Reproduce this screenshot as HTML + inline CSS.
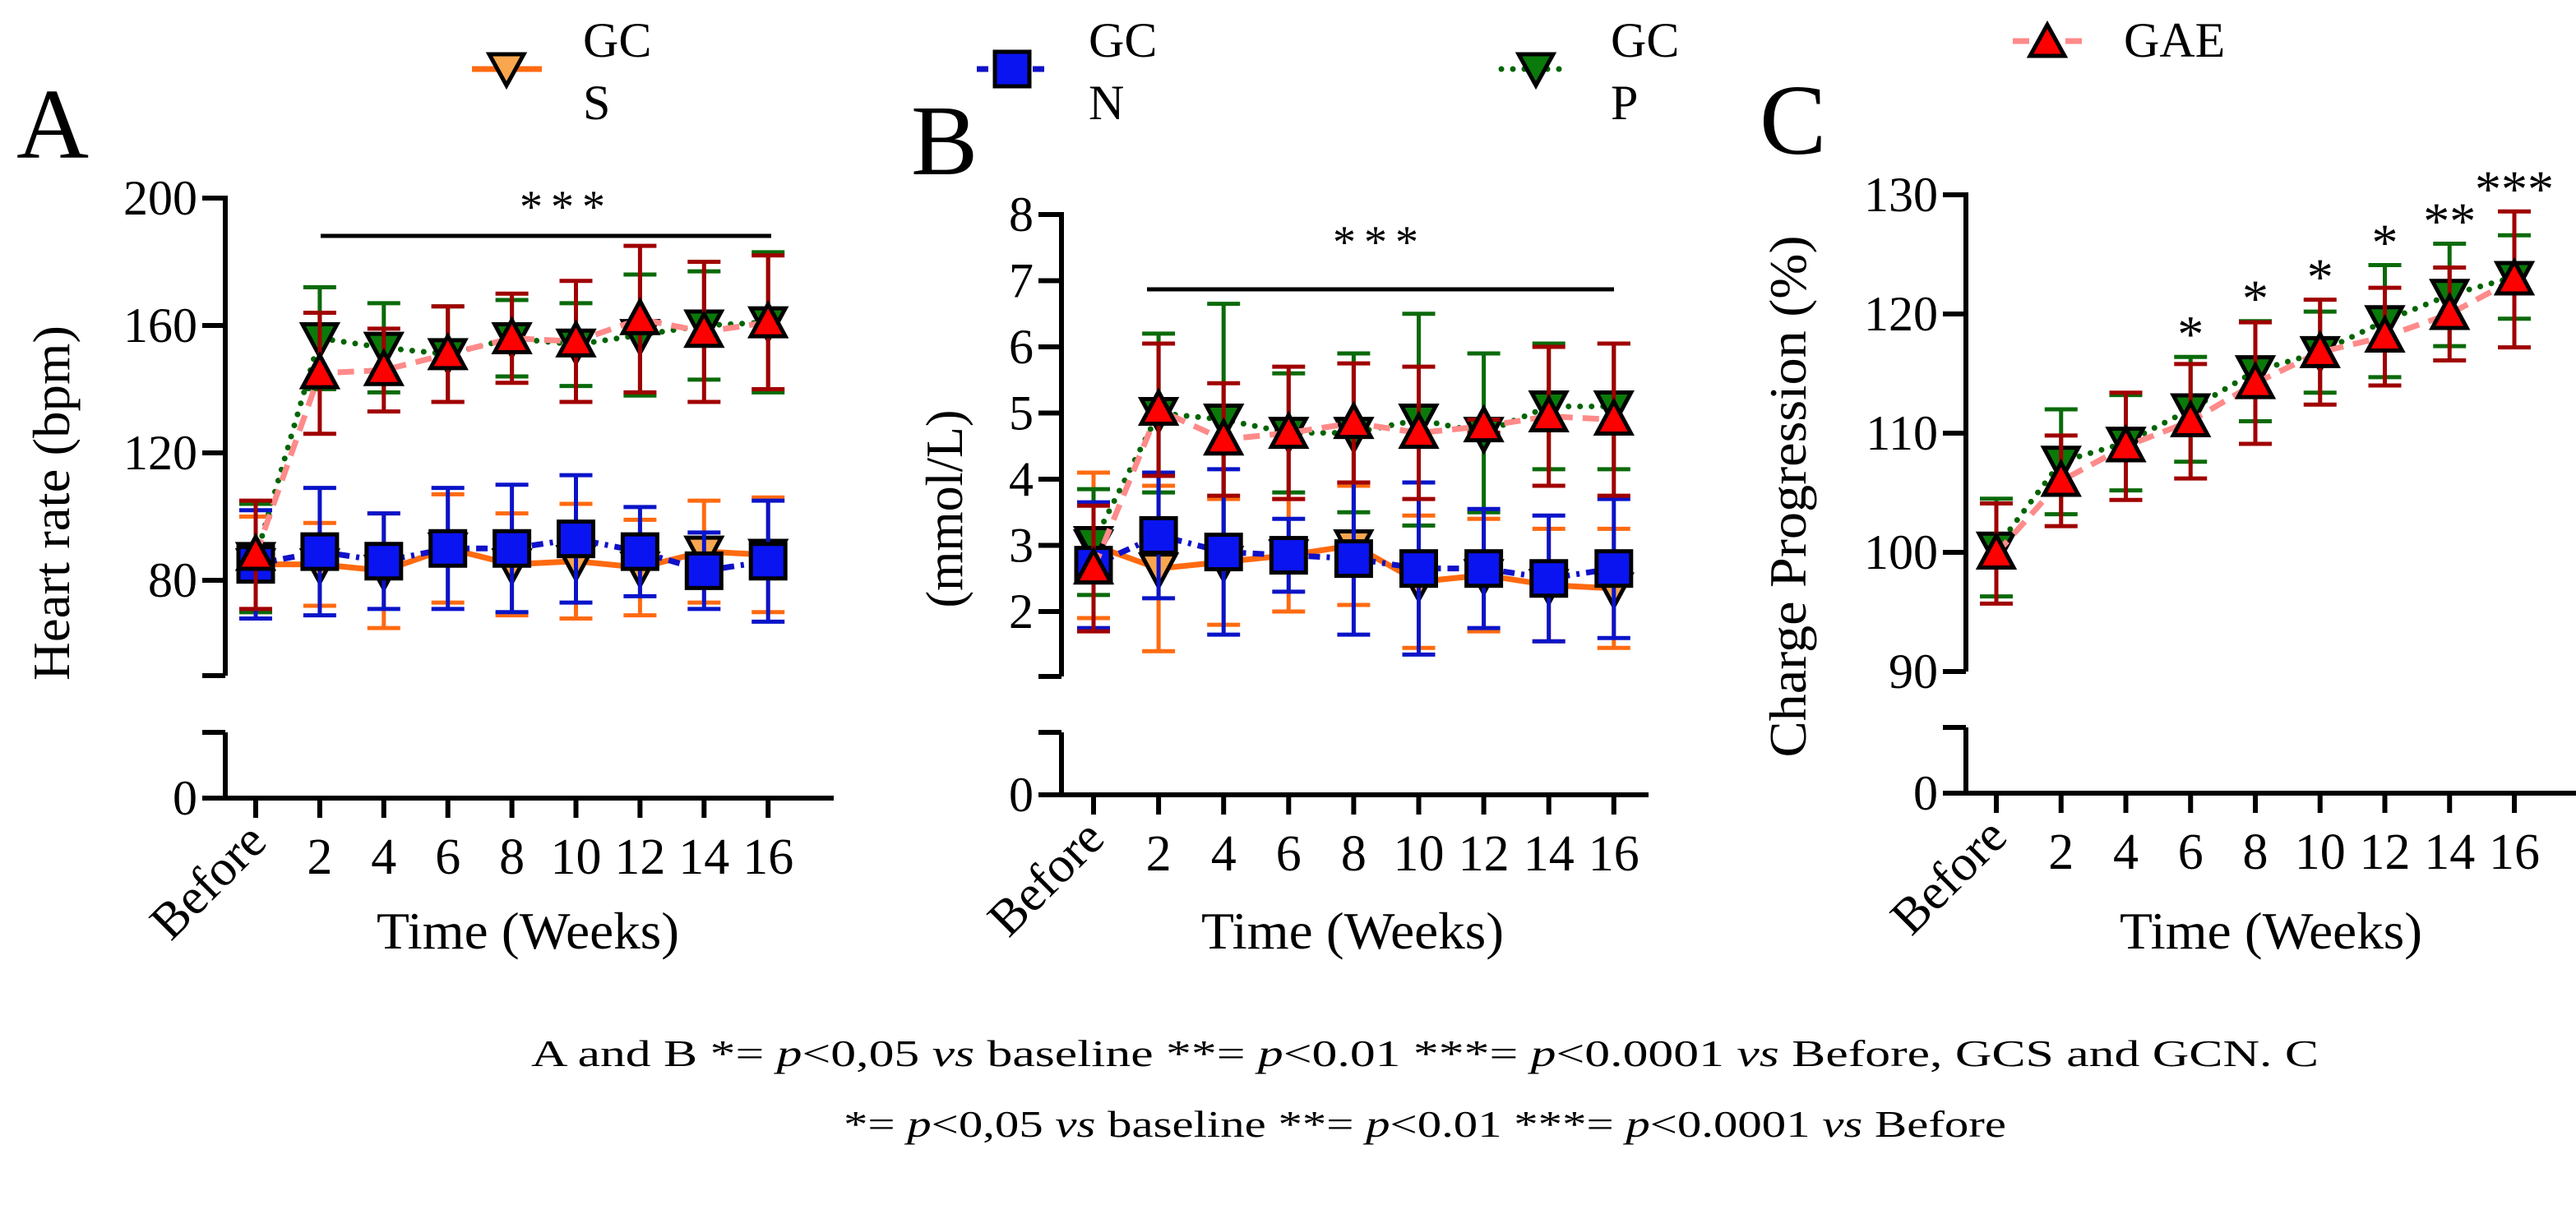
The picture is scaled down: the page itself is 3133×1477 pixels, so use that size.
<!DOCTYPE html>
<html><head><meta charset="utf-8"><style>
html,body{margin:0;padding:0;background:#fff;}
svg, svg text{font-family:"Liberation Serif","Times New Roman",serif;}
</style></head><body>
<svg id="fig" width="3133" height="1472" viewBox="0 0 3133 1472" xmlns="http://www.w3.org/2000/svg" font-family="Liberation Serif, serif">
<g id="legend">
 <g>
  <line x1="574" y1="84" x2="659" y2="84" stroke="#FF6A10" stroke-width="7"/>
  <polygon points="595,66 637,66 616,104" fill="#F9A64E" stroke="#000" stroke-width="5"/>
  <text x="709" y="69" font-size="60">GC</text><text x="709" y="145" font-size="60">S</text>
 </g>
 <g>
  <line x1="1188" y1="84" x2="1273" y2="84" stroke="#1010C8" stroke-width="7" stroke-dasharray="14 8 4 8"/>
  <rect x="1210" y="63" width="42" height="42" fill="#0A14F0" stroke="#000" stroke-width="5"/>
  <text x="1324" y="69" font-size="60">GC</text><text x="1324" y="145" font-size="60">N</text>
 </g>
 <g>
  <line x1="1826" y1="84" x2="1900" y2="84" stroke="#006400" stroke-width="7" stroke-linecap="round" stroke-dasharray="0 14"/>
  <polygon points="1847,66 1889,66 1868,104" fill="#0A7A0A" stroke="#000" stroke-width="5"/>
  <text x="1959" y="69" font-size="60">GC</text><text x="1959" y="145" font-size="60">P</text>
 </g>
 <g>
  <line x1="2448" y1="50" x2="2532" y2="50" stroke="#FF8A8A" stroke-width="7" stroke-dasharray="20 12"/>
  <polygon points="2469,68 2511,68 2490,30" fill="#FF0000" stroke="#000" stroke-width="5"/>
  <text x="2583" y="69" font-size="60">GAE</text>
 </g>
</g>
<text x="20" y="192" font-size="122">A</text>
<text x="1108" y="212" font-size="122">B</text>
<text x="2140" y="187" font-size="122">C</text>
<g font-size="46">
 <text x="646" y="1297" textLength="2174" lengthAdjust="spacingAndGlyphs">A and B *= <tspan font-style="italic">p</tspan>&lt;0,05 <tspan font-style="italic">vs</tspan> baseline **= <tspan font-style="italic">p</tspan>&lt;0.01 ***= <tspan font-style="italic">p</tspan>&lt;0.0001 <tspan font-style="italic">vs</tspan> Before, GCS and GCN. C</text>
 <text x="1026" y="1383" textLength="1414" lengthAdjust="spacingAndGlyphs">*= <tspan font-style="italic">p</tspan>&lt;0,05 <tspan font-style="italic">vs</tspan> baseline **= <tspan font-style="italic">p</tspan>&lt;0.01 ***= <tspan font-style="italic">p</tspan>&lt;0.0001 <tspan font-style="italic">vs</tspan> Before</text>
</g>
</svg>
<script>
const categories = ["Before","2","4","6","8","10","12","14","16"];
// Panel A: heart rate (bpm)
const aGCS = [85,85,83,90,85,86,84,89,88];
const aGCSsd = [15,13,18,17,16,18,15,16,18];
const aGCN = [85,89,86,90,90,93,89,83,86];
const aGCNsd = [17,20,15,19,20,20,14,12,19];
const aGCP = [87,156,153,151,156,154,157,160,161];
const aGCPsd = [17,16,14,15,12,13,19,17,22];
const aGAE = [88,145,146,151,156,155,162,158,161];
const aGAEsd = [17,19,13,15,14,19,23,22,21];
const aTicks = [200,160,120,80];
// Panel B: mmol/L
const bGCS = [3.0,2.65,2.75,2.85,3.0,2.45,2.55,2.4,2.35];
const bGCSsd = [1.1,1.25,0.95,0.85,0.9,1.0,0.85,0.85,0.9];
const bGCN = [2.7,3.15,2.9,2.85,2.8,2.65,2.65,2.5,2.65];
const bGCNsd = [0.95,0.95,1.25,0.55,1.15,1.3,0.9,0.95,1.05];
const bGCP = [3.05,5.0,4.9,4.7,4.7,4.9,4.7,5.1,5.1];
const bGCPsd = [0.8,1.2,1.75,0.9,1.2,1.6,1.2,0.95,0.95];
const bGAE = [2.65,5.05,4.6,4.7,4.85,4.7,4.8,4.95,4.9];
const bGAEsd = [0.95,1.0,0.85,1.0,0.9,1.0,0.1,1.05,1.15];
const bTicks = [8,7,6,5,4,3,2];
// Panel C: charge progression (%)
const cGCP = [100.4,107.6,109.2,112,115.2,116.8,119.4,121.6,123.1];
const cGCPsd = [4.1,4.4,4.0,4.4,4.2,3.4,4.7,4.3,3.5];
const cGAE = [99.9,106,108.9,111,114.2,116.8,118.1,120,122.9];
const cGAEsd = [4.2,3.8,4.5,4.8,5.1,4.4,4.1,3.9,5.7];
const cTicks = [130,120,110,100,90];
const cStars = ["","","","*","*","*","*","**","***"];

const NS="http://www.w3.org/2000/svg";
const fig=document.getElementById('fig');
function mk(tag,attrs,parent){const e=document.createElementNS(NS,tag);for(const k in attrs)e.setAttribute(k,attrs[k]);(parent||fig).appendChild(e);return e;}

const styles={
 gcs:{line:"#FF6A10",dash:"",err:"#FF6A10",fill:"#F9A64E",shape:"down",cap:"butt"},
 gcn:{line:"#1010C8",dash:"14 8 4 8",err:"#0A14C8",fill:"#0A14F0",shape:"square",cap:"butt"},
 gcp:{line:"#006400",dash:"0 14",err:"#0A6A0A",fill:"#0A7A0A",shape:"down",cap:"round"},
 gae:{line:"#FF8A8A",dash:"20 12",err:"#A00000",fill:"#FF0000",shape:"up",cap:"butt"}
};

function panel(p){
 const g=mk('g',{});
 
 
 const X=i=>p.x0+i*p.step;
 const Y=v=>p.yTop+(p.vTop-v)*p.k;
 const ax=mk('g',{stroke:"#000","stroke-width":6,fill:"none"},g);
 
 
 mk('line',{x1:p.ax,y1:Y(p.vTop)-3,x2:p.ax,y2:p.segBot},ax);
 mk('line',{x1:p.ax-28,y1:p.segBot,x2:p.ax,y2:p.segBot},ax);
 mk('line',{x1:p.ax,y1:p.brk,x2:p.ax,y2:p.zero},ax);
 mk('line',{x1:p.ax-28,y1:p.brk,x2:p.ax,y2:p.brk},ax);
 p.ticks.forEach(t=>{
  mk('line',{x1:p.ax-28,y1:Y(t),x2:p.ax,y2:Y(t)},ax);
  const tx=mk('text',{x:p.ax-34,y:Y(t)+20,"font-size":60,"text-anchor":"end",stroke:"none",fill:"#000"},g);
  tx.textContent=t;
  
  
 });
 const z=mk('text',{x:p.ax-34,y:p.zero+20,"font-size":60,"text-anchor":"end"},g);
 z.textContent="0";
 
 
 const xa=mk('g',{stroke:"#000","stroke-width":6},g);
 
 
 mk('line',{x1:p.ax-28,y1:p.zero,x2:p.xEnd,y2:p.zero},xa);
 categories.forEach((c,i)=>{
  mk('line',{x1:X(i),y1:p.zero,x2:X(i),y2:p.zero+24},xa);
  let t;
  if(i===0){t=mk('text',{x:X(i)+16,y:p.zero+56,"font-size":62,"text-anchor":"end",transform:`rotate(-45 ${X(i)+16} ${p.zero+56})`},g);}
  else t=mk('text',{x:X(i),y:p.zero+92,"font-size":62,"text-anchor":"middle"},g);
  t.textContent=c;
  
  
 });
 const xt=mk('text',{x:p.xTitle,y:1154,"font-size":64,"text-anchor":"middle",textLength:368,lengthAdjust:"spacingAndGlyphs"},g);
 xt.textContent="Time (Weeks)";
 
 
 const yt=mk('text',{x:0,y:0,"font-size":64,"text-anchor":"middle",transform:`translate(${p.yTitleX} ${p.yTitleY}) rotate(-90)`,textLength:p.yTitleLen,lengthAdjust:"spacingAndGlyphs"},g);
 yt.textContent=p.yTitle;
 
 
 p.series.forEach(s=>{
  const st=styles[s.key];
  const sg=mk('g',{},g);
  
  
  const pts=s.v.map((v,i)=>X(i)+","+Y(v)).join(" ");
  const pl=mk('polyline',{points:pts,fill:"none",stroke:st.line,"stroke-width":7,"stroke-dasharray":st.dash,"stroke-linecap":st.cap},sg);
  
  
  s.v.forEach((v,i)=>{
   const e=mk('g',{stroke:st.err,"stroke-width":5},sg);
   
   
   const hi=Y(v+s.sd[i]),lo=Y(v-s.sd[i]);
   mk('line',{x1:X(i),y1:hi,x2:X(i),y2:lo},e);
   mk('line',{x1:X(i)-20,y1:hi,x2:X(i)+20,y2:hi},e);
   mk('line',{x1:X(i)-20,y1:lo,x2:X(i)+20,y2:lo},e);
  });
  s.v.forEach((v,i)=>{
   const cx=X(i),cy=Y(v);let m;
   if(st.shape==="square")m=mk('rect',{x:cx-21,y:cy-21,width:42,height:42,fill:st.fill,stroke:"#000","stroke-width":5},sg);
   else if(st.shape==="down")m=mk('polygon',{points:`${cx-21},${cy-17} ${cx+21},${cy-17} ${cx},${cy+22}`,fill:st.fill,stroke:"#000","stroke-width":5},sg);
   else m=mk('polygon',{points:`${cx-21},${cy+17} ${cx+21},${cy+17} ${cx},${cy-22}`,fill:st.fill,stroke:"#000","stroke-width":5},sg);
   
   
  });
 });
 if(p.bar){
  const b=mk('line',{x1:p.bar[0],y1:p.bar[2],x2:p.bar[1],y2:p.bar[2],stroke:"#000","stroke-width":5},g);
  
  
  const t=mk('text',{x:p.starX,y:p.starY+22,"font-size":56,"text-anchor":"middle","letter-spacing":"10"},g);
  t.textContent="***";
  
  
 }
 if(p.stars){
  p.stars.forEach((s,i)=>{
   if(!s)return;
   const hi=Math.max(p.series[0].v[i]+p.series[0].sd[i],p.series[1].v[i]+p.series[1].sd[i]);
   const t=mk('text',{x:X(i),y:Y(hi)-6,"font-size":64,"text-anchor":"middle"},g);
   t.textContent=s;
   
   
  });
 }
}

panel({name:"panel-a-heart-rate",ax:274,x0:311,step:77.9,yTop:241,vTop:200,k:3.875,segBot:822,brk:891,zero:971,xEnd:1014,
 ticks:aTicks,xTitle:642,yTitle:"Heart rate (bpm)",yTitleX:84,yTitleY:612,yTitleLen:432,bar:[390,938,287],starX:689,starY:248,
 series:[{key:"gcs",v:aGCS,sd:aGCSsd},{key:"gcp",v:aGCP,sd:aGCPsd},{key:"gcn",v:aGCN,sd:aGCNsd},{key:"gae",v:aGAE,sd:aGAEsd}]});
panel({name:"panel-b-mmol",ax:1291,x0:1330,step:79.1,yTop:261,vTop:8,k:80.5,segBot:823,brk:891,zero:967,xEnd:2005,
 ticks:bTicks,xTitle:1645,yTitle:"(mmol/L)",yTitleX:1170,yTitleY:619,yTitleLen:241,bar:[1395,1963,352],starX:1678,starY:291,
 series:[{key:"gcs",v:bGCS,sd:bGCSsd},{key:"gcp",v:bGCP,sd:bGCPsd},{key:"gcn",v:bGCN,sd:bGCNsd},{key:"gae",v:bGAE,sd:bGAEsd}]});
panel({name:"panel-c-charge-progression",ax:2391,x0:2428,step:78.75,yTop:237,vTop:130,k:14.5,segBot:817,brk:885,zero:965,xEnd:3133,
 ticks:cTicks,xTitle:2762,yTitle:"Charge Progression (%)",yTitleX:2196,yTitleY:604,yTitleLen:635,stars:cStars,
 series:[{key:"gcp",v:cGCP,sd:cGCPsd},{key:"gae",v:cGAE,sd:cGAEsd}]});
</script>
</body></html>
